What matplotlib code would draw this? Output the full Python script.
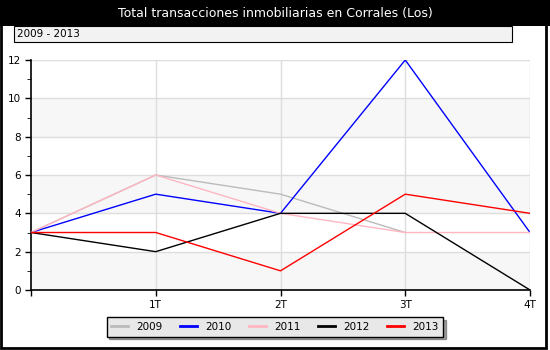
import numpy as np
import matplotlib.pyplot as plt
from matplotlib.patches import Rectangle
import matplotlib.patheffects as pe

# quarterly counts per year
quarters = ['', '1T', '2T', '3T', '4T']
years = ['2009', '2010', '2011', '2012', '2013']
colors = ['#bbbbbb', '#0000ff', '#ffb6c1', '#000000', '#ff0000']
v2009 = [3, 6, 5, 3]
v2010 = [3, 5, 4, 12, 3]
v2011 = [3, 6, 4, 3, 3]
v2012 = [3, 2, 4, 4, 0]
v2013 = [3, 3, 1, 5, 4]
series = [v2009, v2010, v2011, v2012, v2013]

W, H = 550, 350
fig = plt.figure(figsize=(W / 100, H / 100), dpi=100)
fig.patch.set_facecolor('white')

def fx(px):
    return px / W

def fy(py):
    return 1 - py / H

# black header bar and outer frame
fig.patches.append(Rectangle((0, fy(26)), 1, 26 / H, transform=fig.transFigure,
                             facecolor='black', edgecolor='none', zorder=0))
fig.patches.append(Rectangle((fx(1), fy(348)), fx(545), (348 - 1) / H,
                             transform=fig.transFigure, facecolor='none',
                             edgecolor='black', lw=2, zorder=5))
fig.text(0.5, fy(13), 'Total transacciones inmobiliarias en Corrales (Los)',
         color='white', ha='center', va='center', fontsize=9)

# subtitle box
fig.patches.append(Rectangle((fx(14), fy(42)), fx(498), 16 / H, transform=fig.transFigure,
                             facecolor='#f2f2f2', edgecolor='black', lw=0.8, zorder=2))
fig.text(fx(17), fy(34), '2009 - 2013', color='black', ha='left', va='center',
         fontsize=7.5, zorder=3)

ax = fig.add_axes([fx(31), fy(290), fx(530 - 31), (290 - 60) / H])
ax.set_xlim(0, 4)
ax.set_ylim(0, 12)

# alternating horizontal bands
for y0 in range(0, 12, 4):
    ax.axhspan(y0, y0 + 2, color='#f7f7f7', zorder=0, lw=0)
for y in range(2, 13, 2):
    ax.axhline(y, color='#dddddd', lw=1, zorder=1)
for x in range(1, 5):
    ax.axvline(x, color='#dddddd', lw=1, zorder=1)

for vals, c, name in zip(series, colors, years):
    ax.plot(range(len(vals)), vals, color=c, lw=1, label=name, zorder=3)

ax.set_xticks(range(5))
ax.set_xticklabels(quarters)
ax.set_yticks(range(0, 13, 2))
ax.set_yticks(range(0, 13), minor=True)
ax.tick_params(axis='both', labelsize=7.5, length=4, width=1, direction='out', pad=3)
ax.tick_params(axis='y', which='minor', length=3)
for s in ['top', 'right']:
    ax.spines[s].set_visible(False)
for s in ['left', 'bottom']:
    ax.spines[s].set_linewidth(1.2)

leg = fig.legend(loc='center', bbox_to_anchor=(fx(275), fy(327)), ncol=5,
                 fontsize=7.5, frameon=True, fancybox=False, shadow=True,
                 handlelength=1.6, handletextpad=0.8, columnspacing=1.7,
                 borderpad=0.45)
leg.get_frame().set_facecolor('#e8e8e8')
leg.get_frame().set_edgecolor('black')
leg.get_frame().set_alpha(1)
for line in leg.get_lines():
    line.set_linewidth(2)

fig.savefig('out.png', dpi=100)
